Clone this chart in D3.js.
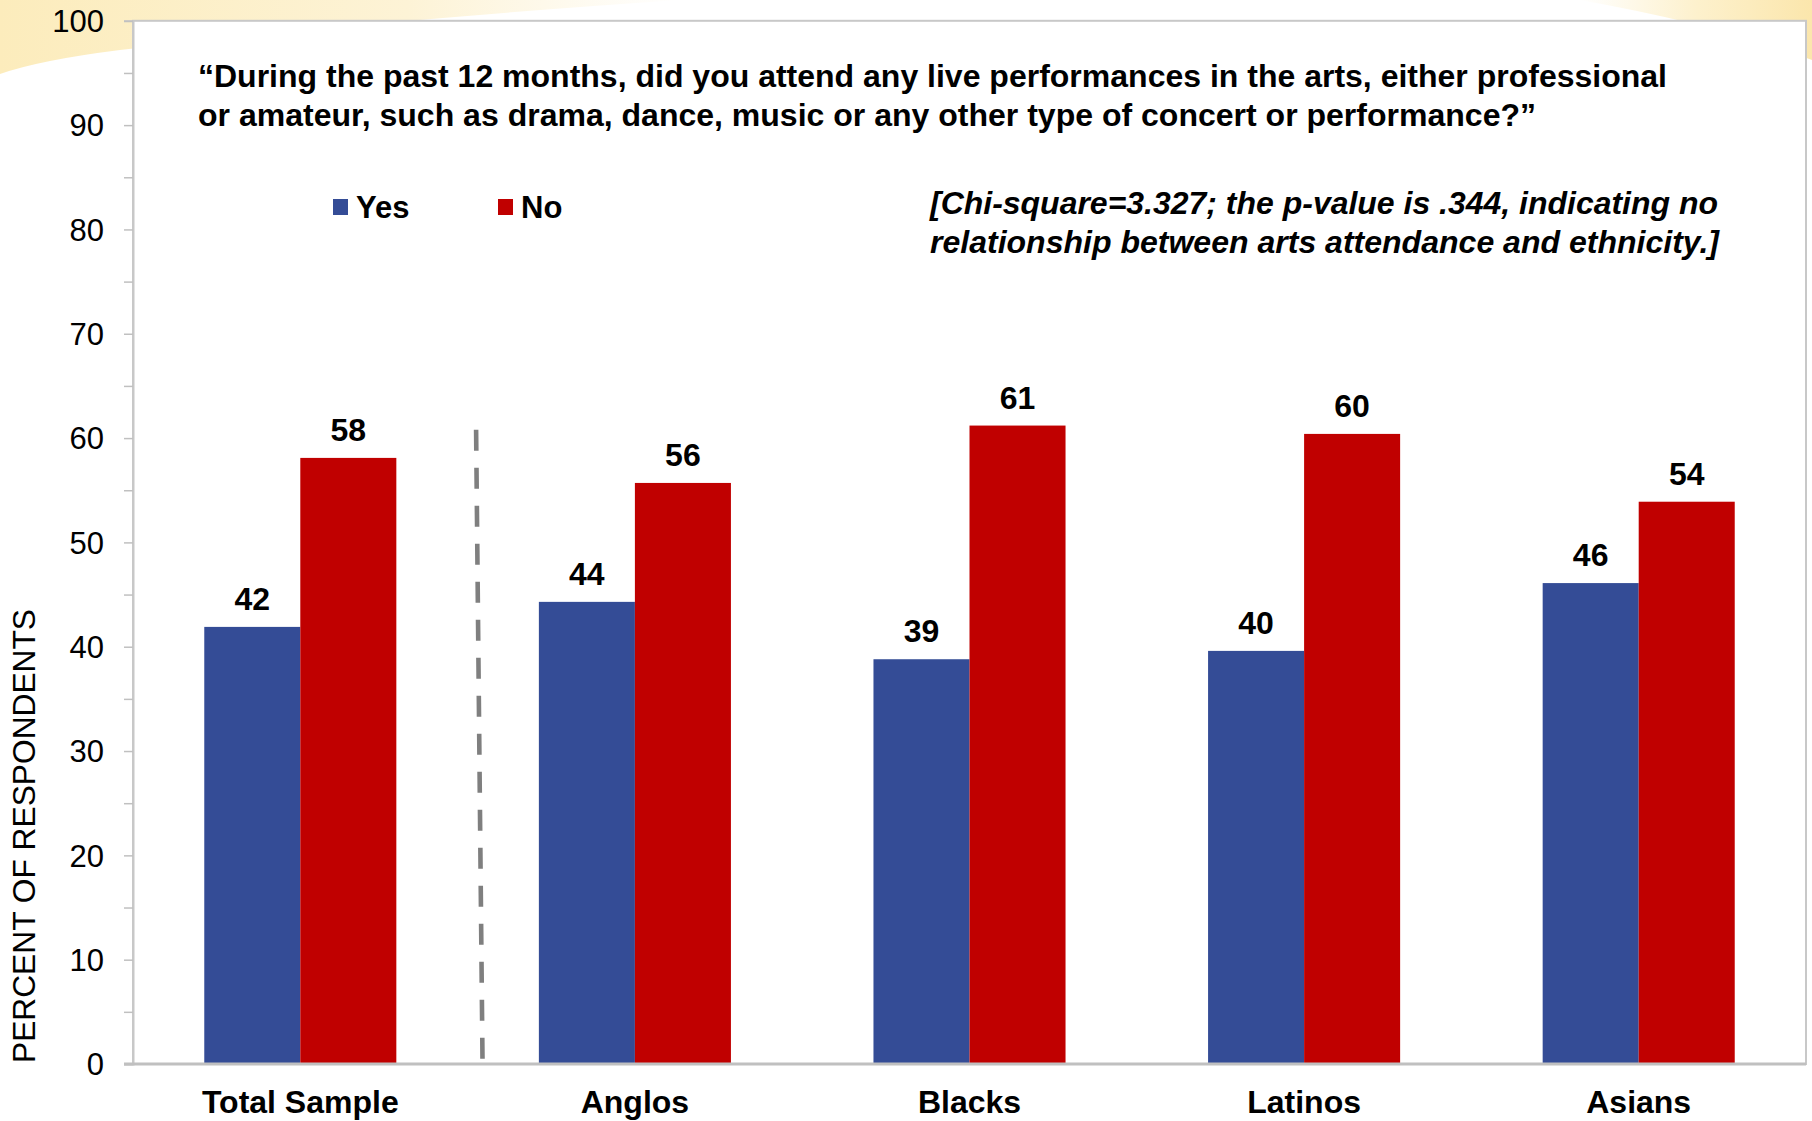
<!DOCTYPE html>
<html>
<head>
<meta charset="utf-8">
<script src="https://cdn.jsdelivr.net/npm/d3@7"></script>
<style>
  html, body { margin: 0; padding: 0; background: #ffffff; }
  svg { display: block; font-family: "Liberation Sans", Arial, sans-serif; }
</style>
</head>
<body>
<svg id="chart" width="1812" height="1121"></svg>
<script>
// ---- data ----
const categories = ["Total Sample", "Anglos", "Blacks", "Latinos", "Asians"];
const seriesNames = ["Yes", "No"];
const yesValues = [41.9, 44.3, 38.8, 39.6, 46.1];
const noValues  = [58.1, 55.7, 61.2, 60.4, 53.9];
const yTicks = [0, 10, 20, 30, 40, 50, 60, 70, 80, 90, 100];
const yMinorTicks = [5, 15, 25, 35, 45, 55, 65, 75, 85, 95];
const titleLines = [
  "\u201cDuring the past 12 months, did you attend any live performances in the arts, either professional",
  "or amateur, such as drama, dance, music or any other type of concert or performance?\u201d"
];
const noteLines = [
  "[Chi-square=3.327; the p-value is .344, indicating no",
  "relationship between arts attendance and ethnicity.]"
];
const yAxisTitle = "PERCENT OF RESPONDENTS";
const separatorTopValue = 60.8;

// ---- layout ----
const W = 1812, H = 1121;
const plot = { left: 133, right: 1806, top: 20.8, bottom: 1064 };
const colors = { Yes: "#344c96", No: "#c00000" };

const svg = d3.select("#chart");
const defs = svg.append("defs");

// background swooshes
const g1 = defs.append("linearGradient").attr("id", "swL").attr("x1", 0).attr("y1", 0).attr("x2", 1).attr("y2", 0);
g1.append("stop").attr("offset", 0).attr("stop-color", "#fcecbc");
g1.append("stop").attr("offset", 0.6).attr("stop-color", "#fdf3d6");
g1.append("stop").attr("offset", 1).attr("stop-color", "#ffffff");
const g2 = defs.append("linearGradient").attr("id", "swR").attr("x1", 0).attr("y1", 0).attr("x2", 1).attr("y2", 0);
g2.append("stop").attr("offset", 0).attr("stop-color", "#ffffff");
g2.append("stop").attr("offset", 0.5).attr("stop-color", "#fdf1cd");
g2.append("stop").attr("offset", 1).attr("stop-color", "#fbe6ac");

svg.append("rect").attr("width", W).attr("height", H).attr("fill", "#ffffff");
svg.append("path").attr("d", "M0,0 L680,0 Q380,20 120,50 Q40,60 0,74 Z").attr("fill", "url(#swL)");
svg.append("path").attr("d", "M1580,0 L1812,0 L1812,60 Q1720,25 1580,0 Z").attr("fill", "url(#swR)");

// plot frame
svg.append("rect")
  .attr("x", plot.left).attr("y", plot.top)
  .attr("width", plot.right - plot.left).attr("height", plot.bottom - plot.top)
  .attr("fill", "#ffffff").attr("stroke", "#c8c8c8").attr("stroke-width", 2);

// scales
const x = d3.scaleBand().domain(categories).range([plot.left, plot.right])
  .paddingInner(0.426).paddingOuter(0.213);
const xs = d3.scaleBand().domain(seriesNames).range([0, x.bandwidth()]).padding(0);
const y = d3.scaleLinear().domain([0, 100]).range([plot.bottom, plot.top]);

// y axis
const yAxis = d3.axisLeft(y).tickValues(yTicks).tickSize(9).tickPadding(20).tickFormat(d3.format("d"));
const yg = svg.append("g").attr("transform", `translate(${plot.left},0)`).call(yAxis);
yg.select(".domain").attr("stroke", "#c8c8c8").attr("stroke-width", 2);
yg.selectAll(".tick line").attr("stroke", "#c0c0c0").attr("stroke-width", 1.5);
yg.selectAll(".tick text").attr("fill", "#000").style("font-size", "31px")
  .style("font-family", '"Liberation Sans", Arial, sans-serif').attr("dy", "0.35em");
const yMinor = d3.axisLeft(y).tickValues(yMinorTicks).tickSize(9).tickFormat("");
const ymg = svg.append("g").attr("transform", `translate(${plot.left},0)`).call(yMinor);
ymg.select(".domain").remove();
ymg.selectAll(".tick line").attr("stroke", "#c0c0c0").attr("stroke-width", 1.5);

// bars
const rows = categories.map((c, i) => ({ cat: c, Yes: yesValues[i], No: noValues[i] }));
const groups = svg.append("g").selectAll("g").data(rows).join("g")
  .attr("transform", d => `translate(${x(d.cat)},0)`);
groups.selectAll("rect").data(d => seriesNames.map(s => ({ s, v: d[s] }))).join("rect")
  .attr("x", d => xs(d.s)).attr("width", xs.bandwidth())
  .attr("y", d => y(d.v)).attr("height", d => y(0) - y(d.v))
  .attr("fill", d => colors[d.s]);
groups.selectAll("text").data(d => seriesNames.map(s => ({ s, v: d[s] }))).join("text")
  .attr("x", d => xs(d.s) + xs.bandwidth() / 2)
  .attr("y", d => y(d.v) - 17)
  .attr("text-anchor", "middle").attr("font-weight", "bold").attr("font-size", 32)
  .attr("fill", "#000").text(d => d3.format(".0f")(d.v));

// x axis line
svg.append("line").attr("x1", plot.left - 9).attr("x2", plot.right)
  .attr("y1", plot.bottom).attr("y2", plot.bottom)
  .attr("stroke", "#c0c0c0").attr("stroke-width", 3);

// category labels
svg.append("g").selectAll("text").data(categories).join("text")
  .attr("x", d => x(d) + x.bandwidth() / 2).attr("y", 1113)
  .attr("text-anchor", "middle").attr("font-weight", "bold").attr("font-size", 32)
  .attr("fill", "#000").text(d => d);

// dashed separator between Total Sample and groups
const sepX = (x(categories[0]) + x.bandwidth() + x(categories[1])) / 2 + 8.5;
svg.append("line")
  .attr("x1", sepX).attr("y1", y(separatorTopValue))
  .attr("x2", sepX + 6.5).attr("y2", plot.bottom + 5)
  .attr("stroke", "#7f7f7f").attr("stroke-width", 4.6).attr("stroke-dasharray", "21,17");

// y axis title
svg.append("text")
  .attr("transform", `translate(35,836) rotate(-90)`)
  .attr("text-anchor", "middle").attr("font-size", 31).attr("fill", "#000")
  .attr("textLength", 454).attr("lengthAdjust", "spacingAndGlyphs")
  .text(yAxisTitle);

// title
const titleLens = [1469, 1338];
svg.append("g").selectAll("text").data(titleLines).join("text")
  .attr("x", 198).attr("y", (d, i) => 87 + i * 38.5)
  .attr("font-weight", "bold").attr("font-size", 32).attr("fill", "#000")
  .attr("textLength", (d, i) => titleLens[i]).attr("lengthAdjust", "spacingAndGlyphs")
  .text(d => d);

// note
const noteLens = [788, 789];
svg.append("g").selectAll("text").data(noteLines).join("text")
  .attr("x", 930).attr("y", (d, i) => 214 + i * 38.5)
  .attr("font-weight", "bold").attr("font-style", "italic").attr("font-size", 31).attr("fill", "#000")
  .attr("textLength", (d, i) => noteLens[i]).attr("lengthAdjust", "spacingAndGlyphs")
  .text(d => d);

// legend
const legendX = [333, 498];
const lg = svg.append("g").selectAll("g").data(seriesNames).join("g")
  .attr("transform", (d, i) => `translate(${legendX[i]},199)`);
lg.append("rect").attr("width", 15).attr("height", 16).attr("fill", d => colors[d]);
lg.append("text").attr("x", 23).attr("y", 19).attr("font-weight", "bold").attr("font-size", 31)
  .attr("fill", "#000").text(d => d);
</script>
</body>
</html>
